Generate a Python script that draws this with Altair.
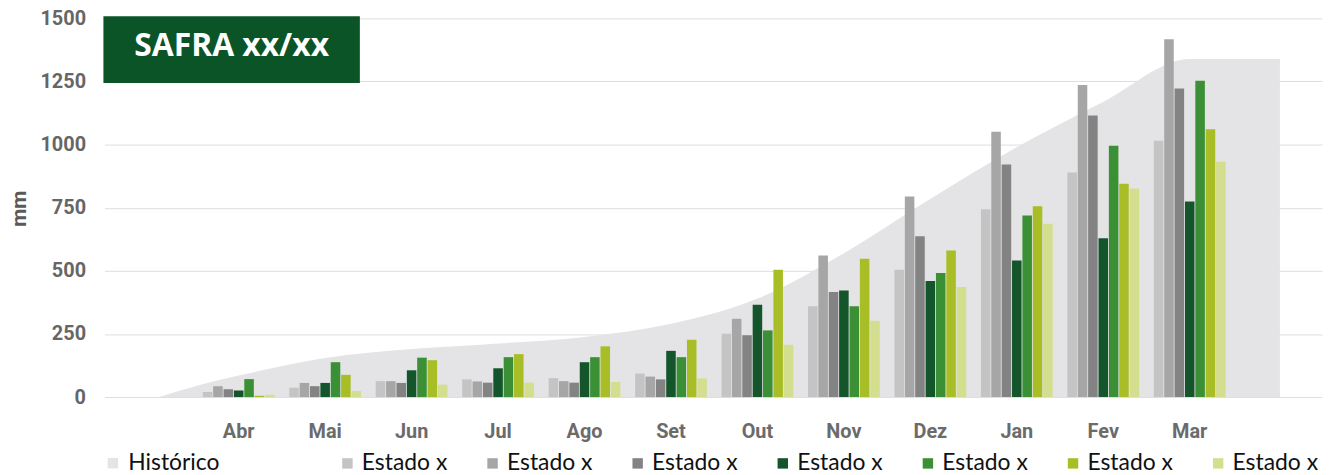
import altair as alt
import pandas as pd

# ---------------- data ----------------
months = ["Abr", "Mai", "Jun", "Jul", "Ago", "Set", "Out", "Nov", "Dez", "Jan", "Fev", "Mar"]
series_keys = ["Estado 1", "Estado 2", "Estado 3", "Estado 4", "Estado 5", "Estado 6", "Estado 7"]
series_label = "Estado x"
hist_label = "Histórico"
title_text = "SAFRA xx/xx"

s1 = [20, 37, 63, 70, 75, 93, 251, 360, 504, 744, 889, 1015]
s2 = [43, 56, 63, 62, 63, 81, 310, 561, 794, 1051, 1236, 1417]
s3 = [31, 43, 56, 57, 57, 70, 245, 416, 637, 921, 1115, 1222]
s4 = [26, 56, 106, 114, 138, 183, 366, 422, 460, 541, 629, 775]
s5 = [71, 138, 156, 158, 158, 158, 264, 360, 491, 719, 995, 1253]
s6 = [5, 88, 146, 170, 201, 227, 504, 548, 580, 756, 845, 1061]
s7 = [9, 24, 49, 57, 60, 74, 207, 302, 436, 686, 826, 932]
series_values = [s1, s2, s3, s4, s5, s6, s7]

# historical (cumulative) curve: position in month units (0 = Abr) and mm
hist_pos = [-0.92, -0.43, 0, 1, 2, 3, 4, 5, 6, 7, 8, 9, 10, 11, 12.04]
hist_vals = [0, 50, 85, 155, 190, 212, 238, 290, 390, 570, 785, 990, 1170, 1339, 1339]

bar_colors = ["#c4c4c4", "#a6a6a6", "#838383", "#14552b", "#3b8f35", "#a9be26", "#d4de8f"]
hist_color = "#e4e4e6"

rows = []
for key, vals in zip(series_keys, series_values):
    for m, v in zip(months, vals):
        rows.append({"mes": m, "serie": key, "mm": v})
bars_df = pd.DataFrame(rows)
hist_df = pd.DataFrame({"pos": hist_pos, "mm": hist_vals, "serie": [hist_label] * len(hist_pos)})
title_df = pd.DataFrame({"t": [title_text]})

y_axis = alt.Axis(
    values=[0, 250, 500, 750, 1000, 1250, 1500], format="d",
    title="mm", titleFont="Roboto", titleFontWeight="bold", titleFontSize=21,
    titleColor="#5a5a5a", titleAngle=270, titleX=-79, titleY=191,
    titleAlign="center", titleBaseline="alphabetic",
    labelFont="Roboto", labelFontWeight="bold", labelFontSize=20, labelColor="#666666",
    labelPadding=19, ticks=False, domain=False,
    grid=True, gridColor="#dedede", gridWidth=1,
)
y_scale = alt.Scale(domain=[0, 1500], nice=False)

area = alt.Chart(hist_df).mark_area(interpolate="monotone").encode(
    x=alt.X("pos:Q", scale=alt.Scale(domain=[-1.553, 12.527], nice=False, zero=False), axis=None),
    y=alt.Y("mm:Q", scale=y_scale, axis=y_axis),
    fill=alt.Fill(
        "serie:N",
        scale=alt.Scale(domain=[hist_label], range=[hist_color]),
        legend=alt.Legend(
            orient="none", legendX=-3, legendY=436, title=None, padding=0,
            symbolType="square", symbolSize=110, symbolStrokeWidth=0,
            labelFont="Lato", labelFontSize=23, labelColor="#111111", labelOffset=4,
        ),
    ),
)

bars = alt.Chart(bars_df).mark_bar().encode(
    x=alt.X(
        "mes:N", sort=months,
        scale=alt.Scale(paddingInner=0.17, paddingOuter=0, range=[99, 1128]),
        axis=alt.Axis(
            title=None, labelAngle=0, domain=False, ticks=False, grid=False,
            labelPadding=25, labelFont="Roboto", labelFontWeight="bold",
            labelFontSize=20, labelColor="#6b6b6b",
        ),
    ),
    xOffset=alt.XOffset("serie:N", sort=series_keys, scale=alt.Scale(paddingInner=0.08)),
    y=alt.Y("mm:Q", scale=y_scale, axis=y_axis),
    color=alt.Color(
        "serie:N", sort=series_keys,
        scale=alt.Scale(domain=series_keys, range=bar_colors),
        legend=alt.Legend(
            orient="none", legendX=233, legendY=436, title=None, padding=0,
            direction="horizontal", columns=7, columnPadding=34,
            labelExpr="'" + series_label + "'",
            symbolType="square", symbolSize=110, symbolStrokeWidth=0,
            labelFont="Lato", labelFontSize=23, labelColor="#111111", labelOffset=3,
        ),
    ),
)

title_box = alt.Chart(title_df).mark_rect(color="#0a5428").encode(
    x=alt.value(-1), x2=alt.value(257), y=alt.value(-2), y2=alt.value(65)
)
title_txt = alt.Chart(title_df).mark_text(
    font="Open Sans", fontWeight="bold", fontSize=32, color="white",
    align="center", baseline="middle",
).encode(x=alt.value(128), y=alt.value(28), text="t:N")

chart = alt.layer(area, bars, title_box, title_txt).resolve_scale(
    x="independent"
).properties(
    width=1225, height=381,
    padding={"left": 97, "top": 9, "right": 2, "bottom": 77},
    autosize=alt.AutoSizeParams(type="none"),
).configure_view(stroke=None)

chart.save("out.html", embed_options={"renderer": "svg", "actions": False})
